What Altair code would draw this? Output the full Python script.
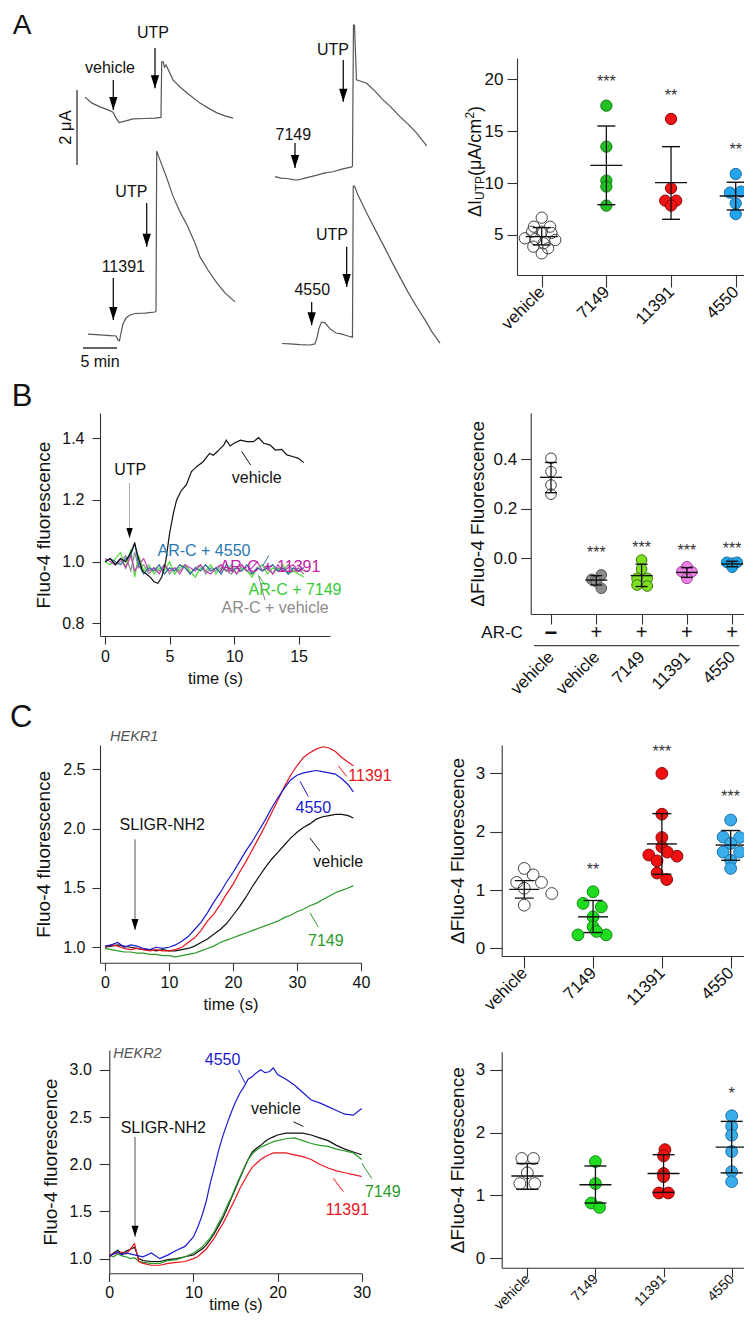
import altair as alt
import pandas as pd

FONT = "Liberation Sans"
W, H = 736, 1307
HEAD = "M-0.32,-1L0.32,-1L0,0Z"
U = alt.Undefined

# ======================= DATA =======================
# ---- Panel A: current traces (time in min, current in uA) ----
A_veh_t = [1.18, 2.21, 3.38, 4.56, 5.29, 5.74, 6.18, 7.06, 8.24, 10.0, 11.47, 12.35, 12.46, 12.65, 12.87, 13.09, 14.12, 15.15, 16.18, 18.09, 19.56, 20.59, 21.76, 22.94]
A_veh_I = [7.41, 7.25, 7.15, 7.07, 7.01, 6.85, 6.73, 6.77, 6.83, 6.84, 6.85, 6.87, 8.35, 8.36, 8.21, 8.27, 7.87, 7.68, 7.52, 7.25, 7.09, 6.99, 6.91, 6.85]
A_113_t = [1.62, 3.38, 4.85, 5.74, 6.03, 6.25, 6.47, 6.76, 7.21, 7.79, 8.53, 10.0, 11.47, 11.62, 11.72, 12.21, 13.09, 14.12, 15.15, 16.18, 17.35, 18.09, 19.26, 20.59, 21.76, 23.24]
A_113_I = [1.09, 1.07, 1.05, 1.04, 0.93, 0.91, 1.12, 1.36, 1.52, 1.60, 1.64, 1.65, 1.68, 1.71, 5.97, 5.73, 5.31, 4.77, 4.35, 4.0, 3.52, 3.15, 2.8, 2.45, 2.19, 1.95]
A_714_t = [29.12, 30.0, 30.88, 31.76, 32.5, 33.53, 35.29, 36.47, 37.65, 38.97, 40.4, 40.51, 40.66, 40.81, 41.1, 41.62, 42.6, 43.82, 45.04, 46.03, 47.5, 48.68, 49.96, 51.43]
A_714_I = [5.29, 5.25, 5.24, 5.21, 5.2, 5.25, 5.33, 5.39, 5.42, 5.49, 5.55, 5.57, 9.33, 9.33, 7.87, 7.84, 7.78, 7.57, 7.33, 7.17, 6.89, 6.69, 6.45, 6.11]
A_455_t = [30.15, 31.32, 32.79, 34.26, 34.99, 35.29, 35.59, 35.96, 36.47, 37.21, 38.09, 38.97, 39.85, 40.51, 40.63, 40.81, 41.32, 42.6, 43.82, 45.04, 46.32, 47.5, 48.68, 49.96, 51.18, 52.21, 53.38]
A_455_I = [0.84, 0.83, 0.81, 0.8, 0.83, 0.99, 1.25, 1.41, 1.39, 1.23, 1.12, 1.09, 1.04, 1.01, 5.04, 5.04, 4.8, 4.32, 3.89, 3.47, 3.01, 2.61, 2.21, 1.82, 1.47, 1.15, 0.85]
A_lab_text = ["vehicle", "UTP", "11391", "UTP", "7149", "UTP", "4550", "UTP"]
A_lab_t = [4.85, 11.18, 6.81, 7.99, 31.81, 37.65, 34.6, 37.5]
A_lab_I = [8.19, 9.12, 2.88, 4.89, 6.4, 8.67, 2.27, 3.73]
A_arr_t = [5.34, 11.47, 5.34, 10.25, 32.06, 39.16, 34.51, 39.66]
A_arr_top = [7.87, 8.72, 2.59, 4.59, 6.19, 8.4, 1.95, 3.42]
A_arr_tip = [7.07, 7.65, 1.47, 3.42, 5.52, 7.29, 1.33, 2.35]
A_bar_uA = 2.0      # vertical scale bar
A_bar_min = 5.0     # horizontal scale bar

# ---- Panel A: dot plot ----
A_groups = ["vehicle", "7149", "11391", "4550"]
A_pts_g = [0] * 13 + [1] * 5 + [2] * 5 + [3] * 5
A_pts_v = [6.67, 5.8, 5.8, 5.32, 5.32, 5.2, 4.68, 4.61, 4.52, 4.2, 3.88, 3.72, 3.23,
           17.46, 13.51, 10.24, 9.66, 7.83,
           16.18, 9.5, 8.31, 8.31, 7.83,
           10.88, 9.08, 9.18, 8.05, 7.02]
A_pts_dx = [0, -0.12, 0.13, -0.15, 0, 0.15, -0.26, -0.1, 0.21, 0.03, -0.13, 0.1, 0,
            0, 0, 0, 0, 0,
            0, 0, -0.09, 0.08, 0,
            0, -0.09, 0.08, 0, 0]
A_mean = [4.84, 11.71, 10.04, 8.76]
A_lo = [4.04, 7.92, 6.51, 7.41]
A_hi = [5.71, 15.5, 13.51, 10.08]
A_star_i = [1, 2, 3]
A_star_txt = ["***", "**", "**"]
A_star_v = [19.78, 18.4, 13.19]

# ---- Panel B: Fluo-4 traces ----
B_veh_t = [0.0, 0.4, 0.8, 1.2, 1.6, 2.0, 2.3, 2.6, 2.9, 3.2, 3.5, 3.8, 4.1, 4.4, 4.7, 5.0, 5.3, 5.55, 5.9, 6.3, 6.7, 7.1, 7.6, 8.1, 8.4, 8.7, 9.2, 9.4, 9.7, 10.0, 10.5, 11.0, 11.5, 11.9, 12.3, 12.8, 13.2, 13.7, 14.1, 14.6, 15.0, 15.4]
B_veh_v = [1.00, 1.01, 0.99, 1.01, 1.00, 1.03, 1.06, 1.01, 0.97, 0.96, 0.95, 0.935, 0.93, 0.95, 1.00, 1.09, 1.157, 1.20, 1.23, 1.249, 1.292, 1.308, 1.324, 1.351, 1.345, 1.357, 1.378, 1.394, 1.375, 1.384, 1.394, 1.389, 1.389, 1.402, 1.384, 1.378, 1.362, 1.364, 1.346, 1.34, 1.335, 1.321]
B_arc_t = [0.0, 0.4, 0.8, 1.2, 1.6, 2.0, 2.3, 2.6, 3.0, 3.4, 3.8, 4.2, 4.6, 5.0, 5.4, 5.8, 6.2, 6.6, 7.0, 7.4, 7.8, 8.2, 8.6, 9.0, 9.4, 9.8, 10.2, 10.6, 11.0, 11.4, 11.8, 12.2, 12.6, 13.0, 13.4, 13.8, 14.2, 14.6, 15.0, 15.4]
B_gray_v = [1.00, 1.01, 0.99, 1.00, 1.02, 0.97, 1.03, 0.98, 0.99, 0.96, 0.98, 0.97, 0.99, 0.96, 0.98, 0.97, 0.99, 0.96, 0.98, 0.99, 0.96, 0.98, 0.97, 0.99, 0.97, 0.96, 0.98, 0.99, 0.97, 0.96, 0.98, 0.97, 0.99, 0.96, 0.98, 0.97, 0.99, 0.97, 0.98, 0.96]
B_green_v = [1.00, 0.99, 1.01, 1.03, 0.98, 1.04, 0.95, 1.02, 0.97, 0.99, 0.96, 0.98, 0.97, 1.00, 0.96, 0.98, 0.99, 0.97, 0.95, 0.98, 0.97, 0.99, 0.96, 0.98, 0.97, 0.99, 0.96, 0.98, 0.97, 0.95, 0.98, 0.99, 0.96, 0.98, 0.97, 0.99, 0.96, 0.97, 0.96, 0.95]
B_mag_v = [1.01, 1.00, 0.99, 1.01, 0.98, 1.02, 0.97, 0.99, 1.01, 0.97, 0.98, 0.96, 0.99, 0.97, 0.98, 0.96, 0.99, 0.98, 0.97, 0.99, 0.97, 0.96, 0.98, 0.99, 0.97, 0.98, 0.96, 0.99, 0.97, 0.98, 1.00, 0.97, 0.98, 0.96, 0.99, 0.97, 0.98, 0.99, 0.97, 0.98]
B_blue_v = [1.00, 1.01, 1.00, 0.99, 1.01, 1.02, 1.06, 0.99, 0.96, 0.98, 0.97, 0.99, 0.96, 0.98, 0.97, 0.99, 0.98, 0.96, 0.98, 0.97, 0.99, 0.97, 0.98, 0.96, 0.99, 0.97, 0.98, 0.97, 0.99, 0.96, 0.98, 0.97, 0.98, 0.99, 0.97, 0.98, 0.96, 0.98, 0.97, 0.98]
B_series = ["AR-C + vehicle", "AR-C + 7149", "AR-C + 11391", "AR-C + 4550", "vehicle"]
B_colors = ["#8c8c8c", "#4fdc3c", "#c43cb4", "#2d6c9c", "#111111"]
B_lab_text = ["UTP", "vehicle", "AR-C + 4550", "AR-C + 11391", "AR-C + 7149", "AR-C + vehicle"]
B_lab_t = [1.95, 11.76, 7.67, 12.79, 14.73, 13.18]
B_lab_v = [1.297, 1.27, 1.035, 0.983, 0.908, 0.85]
B_lab_c = ["#111111", "#111111", "#2a78b0", "#c026a8", "#33cc33", "#8c8c8c"]
B_lead_t = [10.6, 12.2, 15.4, 11.9, 11.9]
B_lead_v = [1.357, 0.985, 0.97, 0.955, 0.955]
B_lead_t2 = [11.29, 12.7, 15.0, 12.4, 12.4]
B_lead_v2 = [1.313, 1.02, 0.99, 0.925, 0.875]
B_lead_c = ["#111111", "#2a78b0", "#c026a8", "#33cc33", "#8c8c8c"]
B_arr_t, B_arr_top, B_arr_tip = [1.9], [1.255], [1.077]

# ---- Panel B: dot plot ----
B_names = ["vehicle", "vehicle", "7149", "11391", "4550"]
B_signs = ["−", "+", "+", "+", "+"]
B_pts_g = [0] * 4 + [1] * 4 + [2] * 6 + [3] * 4 + [4] * 4
B_pts_v = [0.404, 0.35, 0.296, 0.259,
           -0.085, -0.067, -0.094, -0.121,
           -0.007, -0.044, -0.081, -0.081, -0.108, -0.112,
           -0.034, -0.054, -0.054, -0.081,
           -0.016, -0.02, -0.016, -0.036]
B_pts_dx = [0, 0, 0, 0,
            -0.1, 0.11, 0, 0.11,
            0, 0, -0.1, 0.125, -0.1, 0.125,
            0, -0.11, 0.11, 0,
            -0.12, 0, 0.11, 0]
B_mean = [0.327, -0.088, -0.07, -0.057, -0.023]
B_lo = [0.265, -0.108, -0.114, -0.077, -0.034]
B_hi = [0.387, -0.07, -0.024, -0.038, -0.012]
B_star_i = [1, 2, 3, 4]
B_star_v = [0.02, 0.04, 0.031, 0.038]

# ---- Panel C (HEKR1) traces ----
C1_t = [0, 1, 2, 3, 4, 5, 6, 7, 8, 9, 10, 11, 12, 13, 14, 15, 16, 17, 18, 19, 20, 21, 22, 23, 24, 25, 26, 27, 28, 29, 30, 31, 32, 33, 34, 35, 36, 37, 38, 38.8]
C1_red = [1.00, 1.02, 1.01, 0.99, 0.98, 0.99, 0.98, 0.97, 0.98, 0.97, 0.97, 0.98, 1.00, 1.04, 1.08, 1.14, 1.22, 1.28, 1.36, 1.45, 1.53, 1.63, 1.72, 1.82, 1.92, 2.02, 2.13, 2.24, 2.35, 2.45, 2.53, 2.60, 2.64, 2.67, 2.69, 2.68, 2.65, 2.60, 2.56, 2.53]
C1_blue = [1.01, 1.02, 1.04, 1.00, 1.02, 1.01, 0.99, 0.98, 1.00, 0.99, 1.00, 1.02, 1.05, 1.09, 1.15, 1.21, 1.29, 1.38, 1.46, 1.55, 1.63, 1.72, 1.81, 1.89, 1.98, 2.07, 2.17, 2.26, 2.34, 2.41, 2.45, 2.47, 2.48, 2.49, 2.48, 2.47, 2.46, 2.42, 2.37, 2.31]
C1_black = [1.00, 1.01, 1.02, 1.01, 1.00, 0.99, 0.98, 0.98, 0.97, 0.98, 0.97, 0.97, 0.98, 0.99, 1.01, 1.04, 1.07, 1.11, 1.15, 1.20, 1.27, 1.34, 1.42, 1.51, 1.59, 1.67, 1.74, 1.80, 1.86, 1.92, 1.97, 2.01, 2.04, 2.08, 2.10, 2.11, 2.12, 2.12, 2.11, 2.09]
C1_green = [0.99, 0.98, 0.97, 0.96, 0.96, 0.95, 0.95, 0.94, 0.94, 0.93, 0.93, 0.92, 0.93, 0.94, 0.95, 0.97, 0.99, 1.01, 1.04, 1.06, 1.08, 1.10, 1.12, 1.14, 1.16, 1.18, 1.20, 1.22, 1.25, 1.27, 1.30, 1.32, 1.35, 1.37, 1.40, 1.43, 1.46, 1.48, 1.50, 1.52]
C_series = ["vehicle", "7149", "11391", "4550"]
C_line_colors = ["#111111", "#2a9a2a", "#e8141c", "#1a1ad0"]
C1_lab_text = ["11391", "4550", "vehicle", "7149", "SLIGR-NH2"]
C1_lab_t = [41.4, 32.55, 36.45, 34.5, 8.95]
C1_lab_v = [2.44, 2.17, 1.72, 1.05, 2.03]
C1_lab_c = ["#e8141c", "#1a1ad0", "#111111", "#2a9a2a", "#111111"]
C1_lead_t = [36.45, 30.47, 32.03, 32.03]
C1_lead_v = [2.53, 2.4, 1.92, 1.29]
C1_lead_t2 = [37.77, 31.77, 33.59, 33.33]
C1_lead_v2 = [2.44, 2.27, 1.81, 1.17]
C1_arr_t, C1_arr_top, C1_arr_tip = [4.69], [1.91], [1.146]

# ---- Panel C (HEKR1) dot plot ----
C1_pts_g = [0] * 7 + [1] * 8 + [2] * 10 + [3] * 8
C1_pts_v = [1.37, 1.26, 1.13, 1.13, 1.03, 0.94, 0.74,
            0.97, 0.77, 0.71, 0.54, 0.37, 0.23, 0.23, 0.29,
            3.0, 2.3, 1.9, 1.74, 1.6, 1.58, 1.5, 1.65, 1.29, 1.18,
            2.2, 1.91, 1.9, 1.8, 1.65, 1.65, 1.51, 1.37]
C1_pts_dx = [0, 0.13, -0.11, 0.25, 0, 0.4, 0,
             0, -0.145, 0.12, 0, 0, -0.22, 0.19, 0.05,
             0, 0, 0, 0, -0.19, 0.22, -0.07, 0.08, -0.07, 0.07,
             0, -0.11, 0.13, 0, -0.11, 0.13, 0, 0]
C1_mean = [1.01, 0.54, 1.79, 1.77]
C1_lo = [0.86, 0.27, 1.27, 1.51]
C1_hi = [1.16, 0.82, 2.31, 2.02]
C1_star_i = [1, 2, 3]
C1_star_txt = ["**", "***", "***"]
C1_star_v = [1.34, 3.37, 2.6]

# ---- Panel C (HEKR2) traces ----
C2_t = [0, 0.5, 1, 1.5, 2, 2.5, 3, 3.5, 4, 5, 6, 7, 8, 9, 10, 10.5, 11, 11.5, 12, 12.5, 13, 13.5, 14, 14.5, 15, 15.5, 16, 16.5, 17, 17.5, 18, 18.5, 19, 19.5, 20, 21, 22, 23, 24, 25, 26, 27, 28, 29, 30]
C2_blue = [1.03, 1.05, 1.07, 1.04, 1.06, 1.05, 1.04, 1.03, 1.02, 1.06, 1.00, 1.04, 1.09, 1.13, 1.23, 1.33, 1.45, 1.60, 1.80, 1.97, 2.15, 2.30, 2.43, 2.55, 2.66, 2.75, 2.82, 2.90, 2.93, 2.97, 3.00, 2.97, 2.98, 3.02, 2.95, 2.90, 2.84, 2.76, 2.68, 2.65, 2.61, 2.57, 2.53, 2.52, 2.59]
C2_black = [1.02, 1.06, 1.09, 1.05, 1.08, 1.10, 1.12, 1.00, 0.98, 0.97, 0.97, 0.99, 1.00, 1.02, 1.04, 1.07, 1.10, 1.14, 1.20, 1.27, 1.35, 1.43, 1.53, 1.64, 1.74, 1.85, 1.95, 2.05, 2.13, 2.17, 2.20, 2.24, 2.27, 2.29, 2.31, 2.33, 2.33, 2.33, 2.31, 2.28, 2.25, 2.20, 2.16, 2.13, 2.10]
C2_green = [1.04, 1.02, 1.05, 1.03, 1.02, 1.00, 1.01, 0.97, 0.96, 0.95, 0.95, 0.98, 0.99, 1.02, 1.06, 1.09, 1.12, 1.17, 1.22, 1.29, 1.38, 1.46, 1.56, 1.65, 1.76, 1.86, 1.96, 2.05, 2.11, 2.15, 2.18, 2.20, 2.22, 2.24, 2.25, 2.27, 2.28, 2.25, 2.22, 2.20, 2.19, 2.16, 2.14, 2.12, 2.05]
C2_red = [1.04, 1.05, 1.06, 1.07, 1.05, 1.10, 1.16, 0.97, 0.95, 0.93, 0.93, 0.95, 0.96, 0.97, 1.00, 1.02, 1.06, 1.10, 1.16, 1.22, 1.30, 1.37, 1.46, 1.55, 1.64, 1.74, 1.82, 1.90, 1.97, 2.01, 2.05, 2.08, 2.10, 2.12, 2.12, 2.12, 2.10, 2.08, 2.05, 2.00, 1.96, 1.93, 1.91, 1.89, 1.87]
C2_lab_text = ["4550", "vehicle", "SLIGR-NH2", "7149", "11391"]
C2_lab_t = [13.46, 19.8, 6.42, 32.5, 28.3]
C2_lab_v = [3.1, 2.58, 2.38, 1.71, 1.52]
C2_lab_c = ["#1a1ad0", "#111111", "#111111", "#2a9a2a", "#e8141c"]
C2_lead_t = [15.34, 21.88, 30.01, 26.63]
C2_lead_v = [3.0, 2.45, 2.01, 1.85]
C2_lead_t2 = [16.14, 23.07, 31.2, 27.82]
C2_lead_v2 = [2.86, 2.4, 1.85, 1.71]
C2_lead_c = ["#1a1ad0", "#111111", "#2a9a2a", "#e8141c"]
C2_arr_t, C2_arr_top, C2_arr_tip = [3.06], [2.29], [1.233]

# ---- Panel C (HEKR2) dot plot ----
C2_pts_g = [0] * 5 + [1] * 4 + [2] * 6 + [3] * 6
C2_pts_v = [1.59, 1.59, 1.36, 1.19, 1.19,
            1.54, 1.19, 0.88, 0.81,
            1.73, 1.63, 1.35, 1.3, 1.04, 1.04,
            2.27, 2.1, 1.96, 1.7, 1.38, 1.22]
C2_pts_dx = [-0.08, 0.09, 0, -0.11, 0.11,
             0, 0, -0.06, 0.06,
             0.02, 0, 0, 0, -0.07, 0.07,
             0, 0, 0, 0, 0, 0]
C2_mean = [1.31, 1.17, 1.35, 1.77]
C2_lo = [1.1, 0.88, 1.05, 1.36]
C2_hi = [1.51, 1.47, 1.65, 2.18]
C2_star_i = [3]
C2_star_txt = ["*"]
C2_star_v = [2.62]

C_fill = ["none", "#1fdc1f", "#f01010", "#3aaeea"]
C_stroke = ["#444444", "#118a11", "#8a0a0a", "#1a70a8"]

# ======================= HELPERS =======================
def sc(domain, rng):
    return alt.Scale(domain=domain, range=rng, nice=False, zero=False)

AX = dict(grid=False, domainColor="#333333", tickColor="#333333", labelColor="#111111",
          labelFont=FONT, titleFont=FONT, titleFontWeight="normal", titleColor="#111111",
          domainWidth=1.1, tickWidth=1.1, labelFlush=False, labelOverlap=False)


def yaxis(xpos, values, title=None, fmt=None, tick=8, pad=8, tpad=8, lsize=16, tsize=19):
    kw = dict(AX, orient="left", offset=-xpos, values=values, tickSize=tick,
              labelPadding=pad, titlePadding=tpad, labelFontSize=lsize, titleFontSize=tsize,
              title=title)
    if fmt:
        kw["format"] = fmt
    return alt.Axis(**kw)


def xaxis(ypos, values, title=None, tick=8, pad=3, tpad=6, lsize=16, tsize=16.5, **extra):
    kw = dict(AX, orient="bottom", offset=ypos - H, values=values, tickSize=tick,
              labelPadding=pad, titlePadding=tpad, labelFontSize=lsize, titleFontSize=tsize,
              title=title)
    kw.update(extra)
    return alt.Axis(**kw)


def texts(df, xs, ys, size=16, ax=U, **kw):
    return alt.Chart(df).mark_text(font=FONT, fontSize=size, **kw).encode(
        x=alt.X("x:Q", scale=xs, axis=ax),
        y=alt.Y("y:Q", scale=ys, axis=ax),
        text="text:N",
        color=alt.Color("c:N", scale=None))


def segs(df, xs, ys, width=1.0, ax=U):
    return alt.Chart(df).mark_rule(strokeWidth=width).encode(
        x=alt.X("x:Q", scale=xs, axis=ax), y=alt.Y("y:Q", scale=ys, axis=ax),
        x2="x2:Q", y2="y2:Q", color=alt.Color("c:N", scale=None))


def arrows(ts, tops, tips, xs, ys, line_color, head_size, width=1.2, ax=U):
    df = pd.DataFrame({"x": ts, "y": tops, "y2": tips})
    r = alt.Chart(df).mark_rule(color=line_color, strokeWidth=width).encode(
        x=alt.X("x:Q", scale=xs, axis=ax), y=alt.Y("y:Q", scale=ys, axis=ax), y2="y2:Q")
    h = alt.Chart(df).mark_point(shape=HEAD, filled=True, size=head_size, color="#000000",
                                 opacity=1, strokeWidth=0).encode(
        x=alt.X("x:Q", scale=xs, axis=ax), y=alt.Y("y2:Q", scale=ys, axis=ax))
    return [r, h]


def dot_panel(g, v, dx, groups, fills, strokes, means, los, his, star_i, star_t, star_v,
              xs, ys, xax, yax, size, mean_w, cap_w):
    pts = pd.DataFrame({"x": [gi + d for gi, d in zip(g, dx)], "v": v, "g": [groups[gi] for gi in g]})
    summ = pd.DataFrame({"i": list(range(len(groups))), "mean": means, "lo": los, "hi": his})
    stars = pd.DataFrame({"x": star_i, "y": star_v, "text": star_t, "c": "#333333"})
    X = lambda f, ax=U: alt.X(f, scale=xs, axis=ax)
    Y = lambda f, ax=U: alt.Y(f, scale=ys, axis=ax)
    layers = [
        alt.Chart(pts).mark_circle(size=size, opacity=1, strokeWidth=1).encode(
            x=X("x:Q", xax), y=Y("v:Q", yax),
            fill=alt.Fill("g:N", scale=alt.Scale(domain=groups, range=fills), legend=None),
            stroke=alt.Stroke("g:N", scale=alt.Scale(domain=groups, range=strokes), legend=None)),
        alt.Chart(summ).mark_rule(color="#111111", strokeWidth=1.3).encode(
            x=X("i:Q"), y=Y("lo:Q"), y2="hi:Q"),
        alt.Chart(summ).mark_tick(orient="horizontal", size=mean_w, thickness=1.4,
                                  color="#111111", opacity=1).encode(x=X("i:Q"), y=Y("mean:Q")),
        alt.Chart(summ).mark_tick(orient="horizontal", size=cap_w, thickness=1.4,
                                  color="#111111", opacity=1).encode(x=X("i:Q"), y=Y("lo:Q")),
        alt.Chart(summ).mark_tick(orient="horizontal", size=cap_w, thickness=1.4,
                                  color="#111111", opacity=1).encode(x=X("i:Q"), y=Y("hi:Q")),
        texts(stars, xs, ys, size=16, baseline="middle", align="center"),
    ]
    return layers


def lab_expr(names):
    return "[" + ",".join("'%s'" % n for n in names) + "][datum.value]"


def long_df(t_list, v_lists, names):
    frames = []
    for t, v, n in zip(t_list, v_lists, names):
        frames.append(pd.DataFrame({"t": t, "v": v, "s": n}))
    return pd.concat(frames, ignore_index=True)


# ======================= PANEL A (traces, no axes) =======================
A_tx = sc([0, 54.12], [69, 437])
A_ty = sc([0, 9.6], [367, 7])
A_df = long_df([A_veh_t, A_113_t, A_714_t, A_455_t], [A_veh_I, A_113_I, A_714_I, A_455_I],
               ["vehicle", "11391", "7149", "4550"])
A_lines = alt.Chart(A_df).mark_line(color="#555555", strokeWidth=1.2).encode(
    x=alt.X("t:Q", scale=A_tx, axis=None), y=alt.Y("v:Q", scale=A_ty, axis=None),
    detail="s:N")
A_bars = segs(pd.DataFrame({"x": [0.0, 0.88], "x2": [0.0, 0.88 + A_bar_min],
                            "y": [5.6, 0.72], "y2": [5.6 + A_bar_uA, 0.72], "c": "#333333"}),
              A_tx, A_ty, width=1.3, ax=None)
A_bar_lab = texts(pd.DataFrame({"x": [-0.44], "y": [6.6], "text": ["2 μA"], "c": "#111111"}),
                  A_tx, A_ty, size=16.5, ax=None, angle=270, align="center", baseline="bottom")
A_min_lab = texts(pd.DataFrame({"x": [3.38], "y": [0.35], "text": ["5 min"], "c": "#111111"}),
                  A_tx, A_ty, size=16, ax=None, align="center", baseline="middle")
A_labs = texts(pd.DataFrame({"x": A_lab_t, "y": A_lab_I, "text": A_lab_text, "c": "#111111"}),
               A_tx, A_ty, size=16, ax=None, align="center", baseline="middle")
A_letter = texts(pd.DataFrame({"x": [-8.09], "y": [9.3], "text": ["A"], "c": "#111111"}),
                 A_tx, A_ty, size=28, ax=None, align="center", baseline="middle")
panel_A = alt.layer(A_lines, A_bars, A_bar_lab, A_min_lab, A_labs, A_letter,
                    *arrows(A_arr_t, A_arr_top, A_arr_tip, A_tx, A_ty, "#111111", 676, 1.3, ax=None))

# ======================= PANEL A (dots) =======================
A_dx = sc([-0.382, 3.252], [509, 744])
A_dy = sc([1.146, 22.05], [267, 50])
A_xax = xaxis(267, [0, 1, 2, 3], tick=12, pad=2, lsize=17, labelAngle=-45, labelAlign="right",
              labelBaseline="middle", labelExpr=lab_expr(A_groups))
A_yax = yaxis(509, [5, 10, 15, 20], fmt="d", tick=10, pad=4, lsize=17)
A_title = pd.DataFrame({"x": [-0.939, -0.892, -0.939, -1.047, -0.939],
                        "y": [6.73, 8.37, 10.68, 16.21, 16.85],
                        "text": ["ΔI", "UTP", "(μA/cm", "2", ")"],
                        "fs": [18, 12, 18, 12, 18], "c": "#111111"})
A_title_layer = alt.Chart(A_title).mark_text(font=FONT, angle=270, align="left",
                                             baseline="alphabetic").encode(
    x=alt.X("x:Q", scale=A_dx), y=alt.Y("y:Q", scale=A_dy),
    text="text:N", size=alt.Size("fs:Q", scale=None), color=alt.Color("c:N", scale=None))
panel_A_dot = alt.layer(*dot_panel(A_pts_g, A_pts_v, A_pts_dx, A_groups,
                                   ["none", "#22c022", "#f01414", "#22a4ee"],
                                   ["#444444", "#127a12", "#8a0a0a", "#1a6aa0"],
                                   A_mean, A_lo, A_hi, A_star_i, A_star_txt, A_star_v,
                                   A_dx, A_dy, A_xax, A_yax, 127, 32, 18),
                        A_title_layer)

# ======================= PANEL B (traces) =======================
B_lx = sc([-0.39, 17.44], [92, 322])
B_ly = sc([0.759, 1.482], [628, 405])
B_df = long_df([B_arc_t] * 4 + [B_veh_t], [B_gray_v, B_green_v, B_mag_v, B_blue_v, B_veh_v], B_series)
B_lines = alt.Chart(B_df).mark_line(strokeWidth=1.2).encode(
    x=alt.X("t:Q", scale=B_lx, axis=xaxis(628, [0, 5, 10, 15], "time (s)", pad=4)),
    y=alt.Y("v:Q", scale=B_ly, axis=yaxis(92, [0.8, 1.0, 1.2, 1.4], "Fluo-4 fluorescence",
                                          fmt=".1f", pad=8, tpad=8)),
    color=alt.Color("s:N", scale=alt.Scale(domain=B_series, range=B_colors), legend=None))
B_labs = texts(pd.DataFrame({"x": B_lab_t, "y": B_lab_v, "text": B_lab_text, "c": B_lab_c}),
               B_lx, B_ly, size=16, align="center", baseline="middle")
B_leads = segs(pd.DataFrame({"x": B_lead_t, "y": B_lead_v, "x2": B_lead_t2, "y2": B_lead_v2,
                             "c": B_lead_c}), B_lx, B_ly)
B_letter = texts(pd.DataFrame({"x": [-6.43], "y": [1.534], "text": ["B"], "c": "#111111"}),
                 B_lx, B_ly, size=31, align="center", baseline="middle")
panel_B = alt.layer(B_lines, B_labs, B_leads, B_letter,
                    *arrows(B_arr_t, B_arr_top, B_arr_tip, B_lx, B_ly, "#b0b0b0", 400, 1.0))

# ======================= PANEL B (dots) =======================
B_dx = sc([-0.448, 4.393], [522.7, 742])
B_dy = sc([-0.225, 0.588], [606, 404.7])
B_groups = ["veh", "veh_arc", "7149", "11391", "4550"]
B_xax = xaxis(606, [0, 1, 2, 3, 4], tick=10, pad=30, lsize=17, labelAngle=-45, labelAlign="right",
              labelBaseline="middle", labelExpr=lab_expr(B_names))
B_yax = yaxis(522.7, [0.0, 0.2, 0.4], "ΔFluo-4 Fluorescence", fmt=".1f", tick=10, pad=4, tpad=6,
              lsize=17)
B_minus = texts(pd.DataFrame({"x": [0], "y": [-0.303], "text": [B_signs[0]], "c": "#111111"}),
                B_dx, B_dy, size=22, align="center", baseline="middle", fontWeight="bold")
B_plus = texts(pd.DataFrame({"x": [1, 2, 3, 4], "y": [-0.303] * 4, "text": B_signs[1:], "c": "#111111"}),
               B_dx, B_dy, size=20, align="center", baseline="middle")
B_arc = texts(pd.DataFrame({"x": [-0.62], "y": [-0.303], "text": ["AR-C"], "c": "#111111"}),
              B_dx, B_dy, size=17, align="right", baseline="middle")
B_hline = segs(pd.DataFrame({"x": [-0.375], "x2": [4.158], "y": [-0.353], "y2": [-0.353],
                             "c": "#444444"}), B_dx, B_dy, width=1.3)
panel_B_dot = alt.layer(*dot_panel(B_pts_g, B_pts_v, B_pts_dx, B_groups,
                                   ["none", "#8c8c8c", "#7ee01e", "#ee80e6", "#1fa2ea"],
                                   ["#444444", "#555555", "#3d7a10", "#a0409a", "#1a6aa0"],
                                   B_mean, B_lo, B_hi, B_star_i, ["***"] * 4, B_star_v,
                                   B_dx, B_dy, B_xax, B_yax, 113, 22, 12),
                        B_minus, B_plus, B_arc, B_hline)

# ======================= PANEL C1 (traces) =======================
C1_lx = sc([-0.78, 40], [92, 353])
C1_ly = sc([0.87, 2.705], [954.7, 737])
C1_df = long_df([C1_t] * 4, [C1_black, C1_green, C1_red, C1_blue], C_series)
C1_lines = alt.Chart(C1_df).mark_line(strokeWidth=1.2).encode(
    x=alt.X("t:Q", scale=C1_lx, axis=xaxis(954.7, [0, 10, 20, 30, 40], "time (s)", pad=4)),
    y=alt.Y("v:Q", scale=C1_ly, axis=yaxis(92, [1.0, 1.5, 2.0, 2.5], "Fluo-4 fluorescence",
                                           fmt=".1f", pad=7, tpad=9)),
    color=alt.Color("s:N", scale=alt.Scale(domain=C_series, range=C_line_colors), legend=None))
C1_labs = texts(pd.DataFrame({"x": C1_lab_t, "y": C1_lab_v, "text": C1_lab_text, "c": C1_lab_c}),
                C1_lx, C1_ly, size=16, align="center", baseline="middle")
C1_leads = segs(pd.DataFrame({"x": C1_lead_t, "y": C1_lead_v, "x2": C1_lead_t2, "y2": C1_lead_v2,
                              "c": C1_lab_c[:4]}), C1_lx, C1_ly)
C1_tag = texts(pd.DataFrame({"x": [0.78], "y": [2.77], "text": ["HEKR1"], "c": "#555555"}),
               C1_lx, C1_ly, size=14.5, align="left", baseline="middle", fontStyle="italic")
C_letter = texts(pd.DataFrame({"x": [-13.1], "y": [2.93], "text": ["C"], "c": "#111111"}),
                 C1_lx, C1_ly, size=31, align="center", baseline="middle")
panel_C1 = alt.layer(C1_lines, C1_labs, C1_leads, C1_tag, C_letter,
                     *arrows(C1_arr_t, C1_arr_top, C1_arr_tip, C1_lx, C1_ly, "#555555", 484, 1.0))

# ======================= PANEL C1 (dots) =======================
C1_dx = sc([-0.328, 3.233], [493.7, 738.7])
C1_dy = sc([-0.132, 3.487], [948, 737])
C1_xax = xaxis(948, [0, 1, 2, 3], tick=12, pad=2, lsize=17, labelAngle=-45, labelAlign="right",
               labelBaseline="middle", labelExpr=lab_expr(C_series))
C1_yax = yaxis(493.7, [0, 1, 2, 3], "ΔFluo-4 Fluorescence", fmt="d", tick=12, pad=5, tpad=8, lsize=17)
panel_C1_dot = alt.layer(*dot_panel(C1_pts_g, C1_pts_v, C1_pts_dx, C_series, C_fill, C_stroke,
                                    C1_mean, C1_lo, C1_hi, C1_star_i, C1_star_txt, C1_star_v,
                                    C1_dx, C1_dy, C1_xax, C1_yax, 139, 30, 19))

# ======================= PANEL C2 (traces) =======================
C2_lx = sc([0, 30], [101.3, 353.7])
C2_ly = sc([0.845, 3.21], [1265.3, 1042])
C2_df = long_df([C2_t] * 4, [C2_black, C2_green, C2_red, C2_blue], C_series)
C2_lines = alt.Chart(C2_df).mark_line(strokeWidth=1.2).encode(
    x=alt.X("t:Q", scale=C2_lx, axis=xaxis(1265.3, [0, 10, 20, 30], "time (s)", pad=3, tpad=-4,
                                           tsize=16)),
    y=alt.Y("v:Q", scale=C2_ly, axis=yaxis(101.3, [1.0, 1.5, 2.0, 2.5, 3.0], "Fluo-4 fluorescence",
                                           fmt=".1f", tick=10, pad=8, tpad=9)),
    color=alt.Color("s:N", scale=alt.Scale(domain=C_series, range=C_line_colors), legend=None))
C2_labs = texts(pd.DataFrame({"x": C2_lab_t, "y": C2_lab_v, "text": C2_lab_text, "c": C2_lab_c}),
                C2_lx, C2_ly, size=16, align="center", baseline="middle")
C2_leads = segs(pd.DataFrame({"x": C2_lead_t, "y": C2_lead_v, "x2": C2_lead_t2, "y2": C2_lead_v2,
                              "c": C2_lead_c}), C2_lx, C2_ly)
C2_tag = texts(pd.DataFrame({"x": [0.48], "y": [3.17], "text": ["HEKR2"], "c": "#555555"}),
               C2_lx, C2_ly, size=14.5, align="left", baseline="middle", fontStyle="italic")
panel_C2 = alt.layer(C2_lines, C2_labs, C2_leads, C2_tag,
                     *arrows(C2_arr_t, C2_arr_top, C2_arr_tip, C2_lx, C2_ly, "#555555", 484, 1.0))

# ======================= PANEL C2 (dots) =======================
C2_dx = sc([-0.376, 3.244], [493.7, 740.3])
C2_dy = sc([-0.15, 3.29], [1259.7, 1043.7])
C2_xax = xaxis(1259.7, [0, 1, 2, 3], tick=9, pad=0, lsize=14, labelAngle=-45, labelAlign="right",
               labelBaseline="middle", labelExpr=lab_expr(C_series))
C2_yax = yaxis(493.7, [0, 1, 2, 3], "ΔFluo-4 Fluorescence", fmt="d", tick=12, pad=5, tpad=8, lsize=17)
panel_C2_dot = alt.layer(*dot_panel(C2_pts_g, C2_pts_v, C2_pts_dx, C_series, C_fill, C_stroke,
                                    C2_mean, C2_lo, C2_hi, C2_star_i, C2_star_txt, C2_star_v,
                                    C2_dx, C2_dy, C2_xax, C2_yax, 139, 32, 22))

# ======================= FIGURE =======================
chart = alt.layer(panel_A, panel_A_dot, panel_B, panel_B_dot, panel_C1, panel_C1_dot,
                  panel_C2, panel_C2_dot).resolve_scale(
    x="independent", y="independent", color="independent", fill="independent",
    stroke="independent", size="independent"
).properties(width=W, height=H, padding=0, background="white",
             autosize=alt.AutoSizeParams(type="none")).configure_view(stroke=None)

chart.save("out.html", embed_options={"renderer": "svg", "actions": False})
